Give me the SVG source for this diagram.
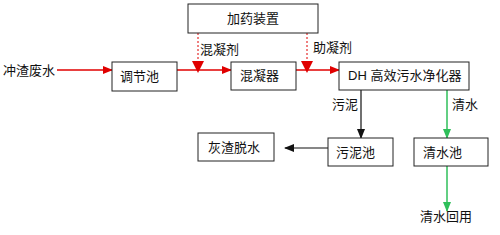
<svg xmlns="http://www.w3.org/2000/svg" width="500" height="235" viewBox="0 0 500 235">
<style>
.box{fill:#fff;stroke:#222;stroke-width:1}
text{font-family:"Liberation Sans","Noto Sans CJK SC",sans-serif;font-size:13px;fill:#111}
.red{stroke:#e00000;stroke-width:1.5;fill:none}
.dash{stroke:#e00000;stroke-width:1;stroke-dasharray:2,2;fill:none}
.blk{stroke:#111;stroke-width:1.2;fill:none}
.grn{stroke:#2fbf5a;stroke-width:1.5;fill:none}
</style>
<defs>
<marker id="ar" markerWidth="10" markerHeight="10" refX="9" refY="5" orient="auto" markerUnits="userSpaceOnUse"><path d="M0,1 L10,5 L0,9 Z" fill="#e00000"/></marker>
<marker id="ar2" markerWidth="12" markerHeight="12" refX="11" refY="6" orient="auto" markerUnits="userSpaceOnUse"><path d="M0,0 L12,6 L0,12 Z" fill="#e00000"/></marker>
<marker id="ab" markerWidth="10" markerHeight="10" refX="9" refY="5" orient="auto" markerUnits="userSpaceOnUse"><path d="M0,1 L10,5 L0,9 Z" fill="#111"/></marker>
<marker id="ag" markerWidth="10" markerHeight="10" refX="9" refY="5" orient="auto" markerUnits="userSpaceOnUse"><path d="M0,1 L10,5 L0,9 Z" fill="#2fbf5a"/></marker>
</defs>
<rect width="500" height="235" fill="#fff"/>
<g id="connectors">
<line class="red" x1="57" y1="70" x2="112" y2="70" marker-end="url(#ar)"/>
<line class="red" x1="177" y1="70" x2="231" y2="70" marker-end="url(#ar)"/>
<line class="red" x1="296" y1="70" x2="339" y2="70" marker-end="url(#ar)"/>
<line class="dash" x1="198" y1="33" x2="198" y2="72" marker-end="url(#ar2)"/>
<line class="dash" x1="307" y1="33" x2="307" y2="72" marker-end="url(#ar2)"/>
<line class="blk" x1="361" y1="89" x2="361" y2="138" marker-end="url(#ab)"/>
<line class="grn" x1="447" y1="89" x2="447" y2="138" marker-end="url(#ag)"/>
<line class="blk" x1="328" y1="148" x2="285" y2="148" marker-end="url(#ab)"/>
<line class="grn" x1="447" y1="166" x2="447" y2="211" marker-end="url(#ag)"/>
<text x="200" y="54">混凝剂</text>
<text x="313" y="52">助凝剂</text>
<text x="332" y="109">污泥</text>
<text x="452" y="109">清水</text>
</g>
<g id="input"><text x="3" y="75">冲渣废水</text></g>
<g id="dosing"><rect class="box" x="188" y="4" width="130" height="29"/><text x="253" y="23" text-anchor="middle">加药装置</text></g>
<g id="regulating"><rect class="box" x="112" y="62" width="65" height="29"/><text x="120" y="81">调节池</text></g>
<g id="coagulator"><rect class="box" x="231" y="62" width="65" height="28"/><text x="240" y="80">混凝器</text></g>
<g id="purifier"><rect class="box" x="339" y="62" width="130" height="28"/><text x="348" y="80">DH 高效污水净化器</text></g>
<g id="sludge"><rect class="box" x="328" y="138" width="65" height="28"/><text x="336" y="157">污泥池</text></g>
<g id="clearpool"><rect class="box" x="414" y="138" width="74" height="28"/><text x="423" y="157">清水池</text></g>
<g id="ash"><rect class="box" x="198" y="133" width="76" height="28"/><text x="208" y="152">灰渣脱水</text></g>
<g id="reuse"><text x="420" y="221">清水回用</text></g>
</svg>
